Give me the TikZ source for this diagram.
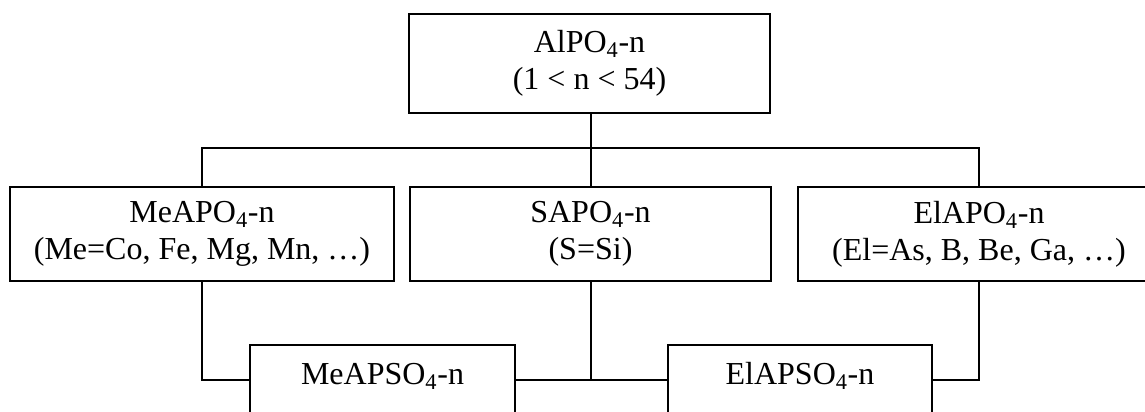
\documentclass[tikz,border=0pt]{standalone}
\usepackage{fontspec}
\setmainfont{Liberation Serif}
\begin{document}
\begin{tikzpicture}[x=0.75pt,y=-0.75pt,
  box/.style={draw,line width=1.4pt,rectangle,align=center,inner sep=0pt,
    font=\fontsize{24}{28}\selectfont},
  lowbox/.style={box,anchor=north,text height=30pt,text depth=22.5pt},
  link/.style={line width=1.4pt}]
\useasboundingbox (0,0) rectangle (1145,411);
\node[box,minimum width=270.75pt,minimum height=74.25pt] (top) at (589.5,63.5)
  {AlPO\textsubscript{4}-n\\(1 < n < 54)};
\node[box,minimum width=288pt,minimum height=70.5pt] (meapo) at (202,234)
  {MeAPO\textsubscript{4}-n\\(Me=Co, Fe, Mg, Mn, …)};
\node[box,minimum width=270.75pt,minimum height=70.5pt] (sapo) at (590.5,234)
  {SAPO\textsubscript{4}-n\\(S=Si)};
\node[box,minimum width=271.5pt,minimum height=70.5pt] (elapo) at (979,234)
  {ElAPO\textsubscript{4}-n\\(El=As, B, Be, Ga, …)};
\node[lowbox,minimum width=198.75pt] (meapso) at (382.5,344) {MeAPSO\textsubscript{4}-n};
\node[lowbox,minimum width=198pt] (elapso) at (800,344) {ElAPSO\textsubscript{4}-n};
\coordinate (bus) at (591.2,148);
\draw[link] (top.south -| bus) -- (bus);
\draw[link] (meapo.north) |- (bus) -| (elapo.north);
\draw[link] (sapo.north -| bus) -- (bus);
\draw[link] (meapo.south) |- (meapso.west);
\draw[link] (sapo.south -| bus) -- (bus |- meapso.east);
\draw[link] (meapso.east) -- (elapso.west);
\draw[link] (elapo.south) |- (elapso.east);
\end{tikzpicture}
\end{document}
